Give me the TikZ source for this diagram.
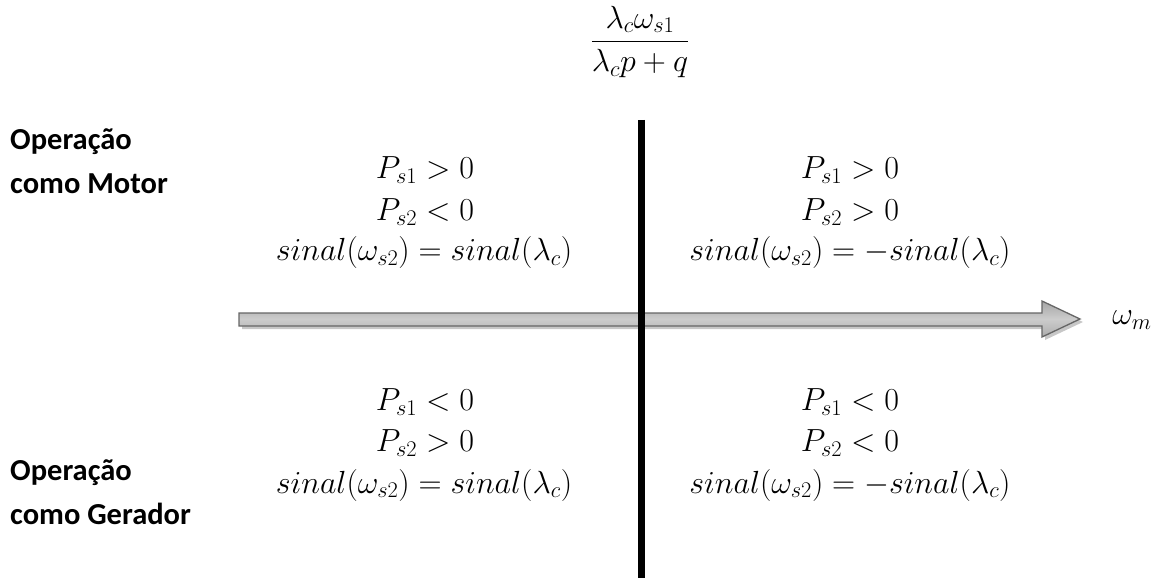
\RequirePackage{fix-cm}
\documentclass[tikz,border=0pt]{standalone}
\usepackage{amsmath}
\usepackage{fontspec}
\newfontfamily\labelfont{Carlito}
\usetikzlibrary{shadings}
\begin{document}
\begin{tikzpicture}[x=1pt,y=-1pt,
  mathtxt/.style={inner sep=0pt,anchor=center,font=\fontsize{32}{36}\selectfont},
  oplabel/.style={inner sep=0pt,anchor=west,align=left,font=\labelfont\bfseries\fontsize{30.5}{44}\selectfont}]
\useasboundingbox (0,0) rectangle (1163,583);
% arrow shadow
\fill[black!22] (242,316) -- (1045,316) -- (1045,304) -- (1083,322) -- (1045,340) -- (1045,329) -- (242,329) -- cycle;
% arrow body
\shade[top color=gray!70,bottom color=gray!65,middle color=gray!40,draw=black!60,line width=1.3pt]
  (239,313) -- (1042,313) -- (1042,301) -- (1080,319) -- (1042,337) -- (1042,326) -- (239,326) -- cycle;
% vertical line
\coordinate (vtop) at (641,120);
\coordinate (vbot) at (641,578);
\draw[line width=7pt] (vtop) -- (vbot);
% fraction
\node[mathtxt] (frac) at (640,42) {$\dfrac{\lambda_c\omega_{s1}}{\lambda_c p+q}$};
\node[mathtxt] (wm) at (1132,320) {$\omega_m$};
% upper left
\node[mathtxt] (ul1) at (425,170) {$P_{s1}>0$};
\node[mathtxt] (ul2) at (425,212) {$P_{s2}<0$};
\node[mathtxt] (ul3) at (424,253) {$sinal(\omega_{s2})=sinal(\lambda_c)$};
% upper right
\node[mathtxt] (ur1) at (850,170) {$P_{s1}>0$};
\node[mathtxt] (ur2) at (850,212) {$P_{s2}>0$};
\node[mathtxt] (ur3) at (850,253) {$sinal(\omega_{s2})=-sinal(\lambda_c)$};
% lower left
\node[mathtxt] (ll1) at (425,402) {$P_{s1}<0$};
\node[mathtxt] (ll2) at (425,443) {$P_{s2}>0$};
\node[mathtxt] (ll3) at (424,485) {$sinal(\omega_{s2})=sinal(\lambda_c)$};
% lower right
\node[mathtxt] (lr1) at (850,402) {$P_{s1}<0$};
\node[mathtxt] (lr2) at (850,443) {$P_{s2}<0$};
\node[mathtxt] (lr3) at (850,485) {$sinal(\omega_{s2})=-sinal(\lambda_c)$};
% labels
\node[oplabel] (motor) at (10,161) {Operação\\como Motor};
\node[oplabel] (gerador) at (10,492) {Operação\\como Gerador};
\end{tikzpicture}
\end{document}
